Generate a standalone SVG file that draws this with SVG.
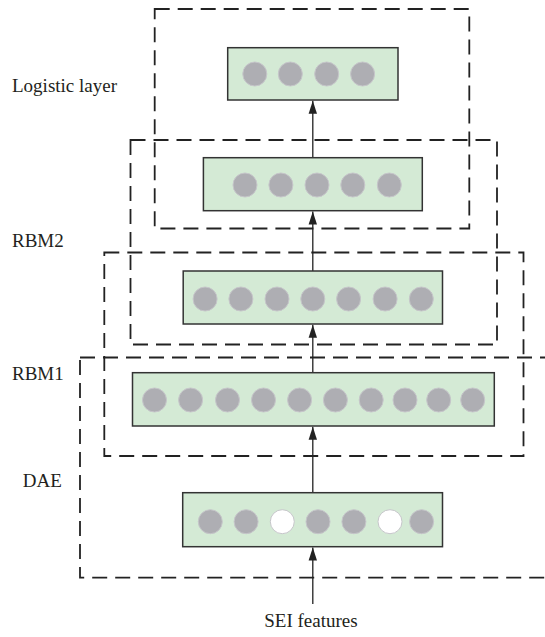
<svg xmlns="http://www.w3.org/2000/svg" width="545" height="637" viewBox="0 0 545 637">
<style>
.bg{fill:#fff}
.grp{fill:none;stroke:#222;stroke-width:1.8;stroke-dasharray:15 8}
.node{fill:#d4ead5;stroke:#333;stroke-width:1.5}
.u{fill:#aeaeb3;stroke:#c6c6ca;stroke-width:1}
.w{fill:#fff;stroke:#c6c6ca;stroke-width:1}
.lbl{font-family:"Liberation Serif","Times New Roman",serif;font-size:19px;fill:#231f20}
.edge{stroke:#222;stroke-width:1.3;fill:none}
</style>
<defs>
<marker id="arr" markerWidth="14" markerHeight="10" refX="13" refY="5" orient="auto" markerUnits="userSpaceOnUse">
<path d="M0,0.8 L13,5 L0,9.2 Z" fill="#222"/>
</marker>
</defs>
<rect class="bg" x="0" y="0" width="545" height="637"/>
<g id="groups">
<rect id="box-logistic" class="grp" x="154.7" y="9" width="314.6" height="219.5"/>
<rect id="box-rbm2" class="grp" x="130.5" y="140" width="366.5" height="204.5"/>
<rect id="box-rbm1" class="grp" x="104.3" y="252.5" width="419.2" height="203.5"/>
<rect id="box-dae" class="grp" x="80" y="357.5" width="490" height="220.2"/>
</g>
<g id="labels">
<text class="lbl" x="12" y="92.3">Logistic layer</text>
<text class="lbl" x="12" y="246.7">RBM2</text>
<text class="lbl" x="12" y="380">RBM1</text>
<text class="lbl" x="22.7" y="486.7">DAE</text>
<text class="lbl" x="311" y="626.7" text-anchor="middle">SEI features</text>
</g>
<g id="connectors">
<line class="edge" x1="312.8" y1="604" x2="312.8" y2="547.5" marker-end="url(#arr)"/>
<line class="edge" x1="312.8" y1="492.7" x2="312.8" y2="426.8" marker-end="url(#arr)"/>
<line class="edge" x1="312.8" y1="372.7" x2="312.8" y2="324.8" marker-end="url(#arr)"/>
<line class="edge" x1="312.8" y1="271" x2="312.8" y2="211.5" marker-end="url(#arr)"/>
<line class="edge" x1="312.8" y1="157.7" x2="312.8" y2="100.8" marker-end="url(#arr)"/>
</g>
<g id="node-logistic">
<rect class="node" x="227.7" y="47.7" width="170.3" height="52.3"/>
<circle class="u" cx="254.8" cy="74" r="12"/>
<circle class="u" cx="290.3" cy="74" r="12"/>
<circle class="u" cx="326.7" cy="74" r="12"/>
<circle class="u" cx="362.6" cy="74" r="12"/>
</g>
<g id="node-rbm2-hidden">
<rect class="node" x="203.4" y="157.7" width="218.9" height="53"/>
<circle class="u" cx="245" cy="185" r="12"/>
<circle class="u" cx="280.9" cy="185" r="12"/>
<circle class="u" cx="317" cy="185" r="12"/>
<circle class="u" cx="352.8" cy="185" r="12"/>
<circle class="u" cx="389.3" cy="185" r="12"/>
</g>
<g id="node-rbm1-hidden">
<rect class="node" x="183.2" y="271" width="259.3" height="53"/>
<circle class="u" cx="205.1" cy="299" r="12"/>
<circle class="u" cx="240.9" cy="299" r="12"/>
<circle class="u" cx="277" cy="299" r="12"/>
<circle class="u" cx="312.8" cy="299" r="12"/>
<circle class="u" cx="348.6" cy="299" r="12"/>
<circle class="u" cx="385.1" cy="299" r="12"/>
<circle class="u" cx="421.3" cy="299" r="12"/>
</g>
<g id="node-dae-hidden">
<rect class="node" x="132.5" y="372.7" width="361.8" height="53.3"/>
<circle class="u" cx="154.5" cy="400" r="12"/>
<circle class="u" cx="190.6" cy="400" r="12"/>
<circle class="u" cx="227.5" cy="400" r="12"/>
<circle class="u" cx="263.5" cy="400" r="12"/>
<circle class="u" cx="299.6" cy="400" r="12"/>
<circle class="u" cx="335.4" cy="400" r="12"/>
<circle class="u" cx="371.2" cy="400" r="12"/>
<circle class="u" cx="405" cy="400" r="12"/>
<circle class="u" cx="438.7" cy="400" r="12"/>
<circle class="u" cx="472.7" cy="400" r="12"/>
</g>
<g id="node-input">
<rect class="node" x="182.7" y="492.7" width="259.8" height="54"/>
<circle class="u" cx="210.3" cy="521.7" r="12"/>
<circle class="u" cx="246.1" cy="521.7" r="12"/>
<circle class="w" cx="282.3" cy="521.7" r="12"/>
<circle class="u" cx="318" cy="521.7" r="12"/>
<circle class="u" cx="353.9" cy="521.7" r="12"/>
<circle class="w" cx="390" cy="521.7" r="12"/>
<circle class="u" cx="421.6" cy="521.7" r="12"/>
</g>
</svg>
